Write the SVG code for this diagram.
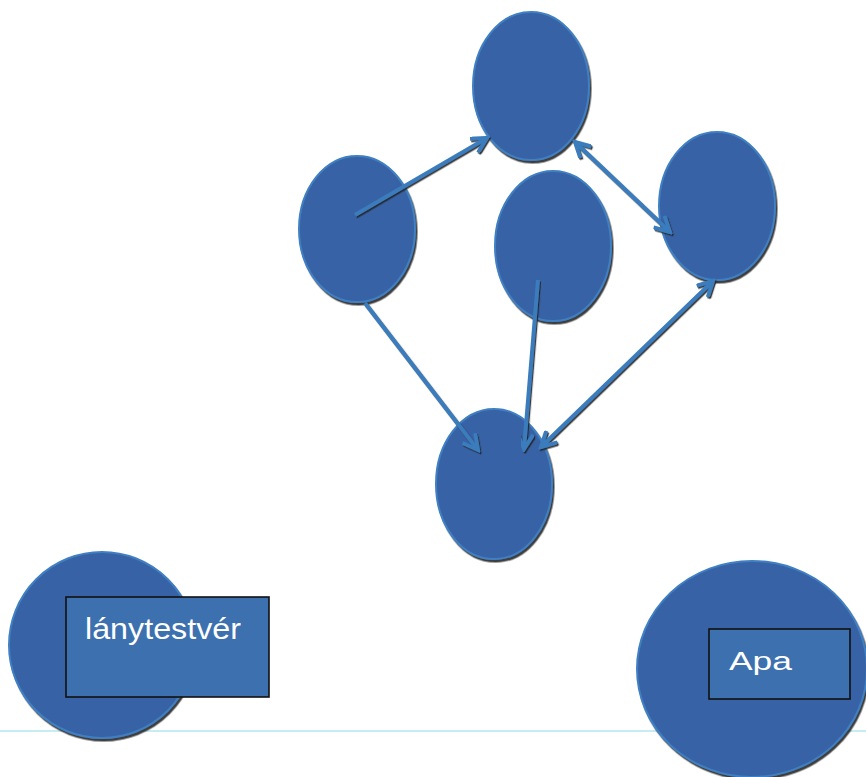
<svg xmlns="http://www.w3.org/2000/svg" width="866" height="777" viewBox="0 0 866 777">
<style>
.node{fill:#3862a6;stroke:#3f80c2;stroke-width:2;filter:url(#sh)}
.box{fill:#3c70ae;stroke:#111;stroke-width:1.6}
.lbl{font-family:"Liberation Sans",Arial,sans-serif;fill:#fff}
.conn{stroke:#3b7cbc;stroke-width:4;fill:none;filter:url(#sh2)}
</style>
<defs>
<filter id="sh" x="-10%" y="-10%" width="125%" height="125%">
<feDropShadow dx="1.5" dy="2.5" stdDeviation="0.6" flood-color="#2a2a2a" flood-opacity="0.9"/>
</filter>
<filter id="sh2" x="-20%" y="-20%" width="140%" height="140%">
<feDropShadow dx="1.2" dy="1.5" stdDeviation="0.4" flood-color="#222" flood-opacity="0.9"/>
</filter>
<marker id="ah" markerUnits="userSpaceOnUse" viewBox="0 0 20 18" markerWidth="20" markerHeight="18" refX="17" refY="9" orient="auto-start-reverse">
<path d="M2,1 L17,9 L2,17" fill="none" stroke="#3b7cbc" stroke-width="4"/>
</marker>
</defs>
<rect width="866" height="777" fill="#fff"/>
<line x1="0" y1="731" x2="866" y2="731" stroke="#c6eef2" stroke-width="2"/>
<g id="n-top"><ellipse class="node" cx="531" cy="86" rx="58" ry="74"/></g>
<g id="n-left"><ellipse class="node" cx="357" cy="229" rx="58" ry="73"/></g>
<g id="n-mid"><ellipse class="node" cx="553" cy="246" rx="58" ry="75"/></g>
<g id="n-right"><ellipse class="node" cx="717" cy="206" rx="58" ry="74"/></g>
<g id="n-bottom"><ellipse class="node" cx="494" cy="484" rx="58" ry="75"/></g>
<g id="n-lanytestver">
<ellipse class="node" cx="102" cy="645" rx="93" ry="93"/>
<rect class="box" x="66" y="597" width="203" height="100"/>
<text class="lbl" x="85" y="639" font-size="30" textLength="156" lengthAdjust="spacingAndGlyphs">lánytestvér</text>
</g>
<g id="n-apa">
<ellipse class="node" cx="752" cy="669" rx="115" ry="108"/>
<rect class="box" x="709" y="629" width="141" height="70"/>
<text class="lbl" x="729" y="670" font-size="25" textLength="63" lengthAdjust="spacingAndGlyphs">Apa</text>
</g>
<g id="connectors">
<line class="conn" x1="355" y1="215" x2="487" y2="138" marker-end="url(#ah)"/>
<line class="conn" x1="575" y1="142" x2="670" y2="232" marker-start="url(#ah)" marker-end="url(#ah)"/>
<line class="conn" x1="713" y1="281" x2="541" y2="447" marker-start="url(#ah)" marker-end="url(#ah)"/>
<line class="conn" x1="538" y1="280" x2="524" y2="449" marker-end="url(#ah)"/>
<line class="conn" x1="365" y1="303" x2="478" y2="450" marker-end="url(#ah)"/>
</g>
</svg>
